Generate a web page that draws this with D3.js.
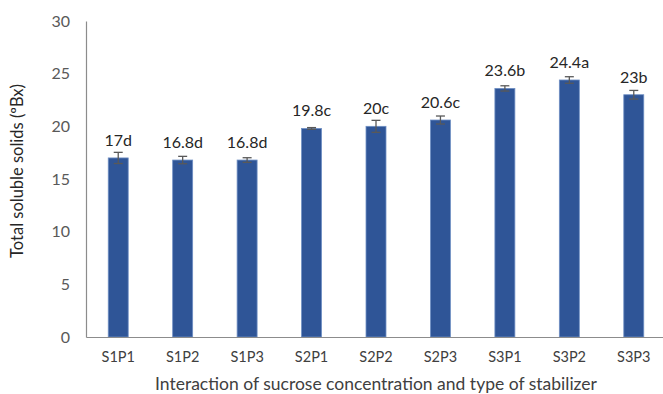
<!DOCTYPE html>
<html>
<head>
<meta charset="utf-8">
<script src="https://cdn.jsdelivr.net/npm/d3@7/dist/d3.min.js"></script>
<style>
  html, body { margin: 0; padding: 0; background: #fff; }
  svg { display: block; }
  text { font-family: Lato, "Open Sans", sans-serif; }
</style>
</head>
<body>
<svg id="chart" width="663" height="394"></svg>
<script>
// Treatment combinations (sucrose level S x stabilizer P)
const categories = ["S1P1", "S1P2", "S1P3", "S2P1", "S2P2", "S2P3", "S3P1", "S3P2", "S3P3"];
// Mean total soluble solids (°Bx)
const values = [17, 16.8, 16.8, 19.8, 20, 20.6, 23.6, 24.4, 23];
// Standard error of each mean
const errors = [0.53, 0.35, 0.22, 0.08, 0.57, 0.38, 0.25, 0.31, 0.41];
// Significance letters
const letters = ["d", "d", "d", "c", "c", "c", "b", "a", "b"];
const yTicks = [0, 5, 10, 15, 20, 25, 30];

const svg = d3.select("#chart");
const plotLeft = 86, plotRight = 666, plotTop = 21, plotBottom = 337;

const x = d3.scaleBand().domain(categories).range([plotLeft, plotRight]).paddingInner(0.69).paddingOuter(0.345);
const y = d3.scaleLinear().domain([0, 30]).range([plotBottom, plotTop]);

// Y axis: line with labels, no tick marks
const yAxis = svg.append("g")
  .attr("transform", `translate(${plotLeft},0)`)
  .call(d3.axisLeft(y).tickValues(yTicks).tickSize(0).tickPadding(16));
yAxis.select(".domain").attr("stroke", "#8c8c8c").attr("stroke-width", 1.2);
yAxis.selectAll("text").attr("fill", "#595959").style("font-size", "16px").style("font-family", "Lato, 'Open Sans', sans-serif");

// Bars
svg.append("g").selectAll("rect")
  .data(values)
  .join("rect")
  .attr("x", (d, i) => x(categories[i]))
  .attr("y", d => y(d))
  .attr("width", x.bandwidth())
  .attr("height", d => y(0) - y(d))
  .attr("fill", "#2F5597")
  .attr("stroke", "#6f8fc4")
  .attr("stroke-width", 0.8);

// Error bars
const eb = svg.append("g").attr("stroke", "#595959").attr("stroke-width", 1.3);
values.forEach((v, i) => {
  const cx = x(categories[i]) + x.bandwidth() / 2;
  const y1 = y(v + errors[i]), y2 = y(v - errors[i]);
  eb.append("line").attr("x1", cx).attr("x2", cx).attr("y1", y1).attr("y2", y2);
  eb.append("line").attr("x1", cx - 4.5).attr("x2", cx + 4.5).attr("y1", y1).attr("y2", y1);
  eb.append("line").attr("x1", cx - 4.5).attr("x2", cx + 4.5).attr("y1", y2).attr("y2", y2);
});

// Value labels with letters
svg.append("g").selectAll("text")
  .data(values)
  .join("text")
  .attr("x", (d, i) => x(categories[i]) + x.bandwidth() / 2)
  .attr("y", d => y(d) - 12)
  .attr("text-anchor", "middle")
  .attr("fill", "#262626")
  .style("font-size", "16px")
  .text((d, i) => d + letters[i]);

// X axis
const xAxis = svg.append("g")
  .attr("transform", `translate(0,${plotBottom})`)
  .call(d3.axisBottom(x).tickSize(0).tickPadding(15));
xAxis.select(".domain").attr("stroke", "#8c8c8c").attr("stroke-width", 1.2);
xAxis.selectAll("text").attr("fill", "#404040").style("font-size", "14.5px").style("font-family", "Lato, 'Open Sans', sans-serif");

// Axis titles
svg.append("text")
  .attr("x", 376)
  .attr("y", 390)
  .attr("text-anchor", "middle")
  .attr("fill", "#404040")
  .style("font-size", "17.5px")
  .text("Interaction of sucrose concentration and type of stabilizer");

svg.append("text")
  .attr("transform", "translate(23,171) rotate(-90)")
  .attr("text-anchor", "middle")
  .attr("fill", "#262626")
  .style("font-size", "16.5px")
  .text("Total soluble solids (ºBx)");
</script>
</body>
</html>
